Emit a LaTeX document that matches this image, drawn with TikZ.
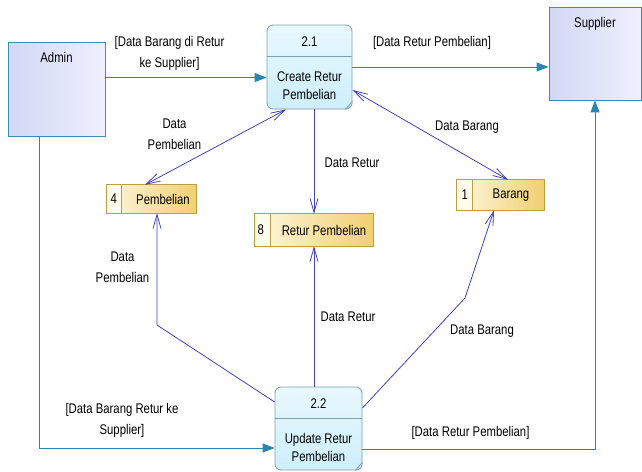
\documentclass[tikz,border=0pt]{standalone}
\usepackage{fontspec}
\setmainfont{Liberation Sans}[FakeStretch=0.81]
\usetikzlibrary{arrows.meta,calc}

\definecolor{entline}{HTML}{3F8DAE}
\definecolor{entdark}{HTML}{D2D8F5}
\definecolor{entlight}{HTML}{EEF0FC}
\definecolor{procline}{HTML}{7C9FB2}
\definecolor{proctop}{HTML}{E8F8FE}
\definecolor{procbot}{HTML}{CDEFFB}
\definecolor{storeline}{HTML}{BC9E44}
\definecolor{storelight}{HTML}{FDF7DD}
\definecolor{storedark}{HTML}{F1CF72}
\definecolor{storenum}{HTML}{FFFCEB}
\definecolor{extflow}{HTML}{2A86B0}
\definecolor{dataflow}{HTML}{4442BC}

\tikzset{
  entity/.style={draw=entline, line width=0.9pt, left color=entdark, right color=entlight},
  process/.style={draw=procline, line width=0.8pt, rounded corners=6pt,
    top color=proctop, bottom color=procbot},
  store/.style={left color=storelight, right color=storedark},
  storeframe/.style={draw=storeline, line width=0.8pt},
  divider/.style={draw=procline, line width=0.8pt},
  sdivider/.style={draw=storeline, line width=0.8pt},
  ext/.style={draw=extflow, line width=1pt, -{Triangle[length=12pt,width=9pt]}},
  flow/.style={draw=dataflow, line width=0.8pt, -{Straight Barb[length=14pt,width=8pt]}},
  flowboth/.style={draw=dataflow, line width=0.8pt,
    {Straight Barb[length=14pt,width=8pt]}-{Straight Barb[length=14pt,width=8pt]}},
  lbl/.style={align=center, inner sep=0pt, font=\fontsize{14pt}{21pt}\selectfont},
  ptext/.style={align=center, inner sep=0pt, font=\fontsize{14pt}{18pt}\selectfont},
}

\begin{document}
\begin{tikzpicture}[x=1pt, y=-1pt, font=\fontsize{14pt}{18pt}\selectfont]
  \useasboundingbox[fill=white] (0,0) rectangle (642,471);

  % external entities
  \node[entity, minimum width=97pt, minimum height=94pt] (admin) at (56.5,89) {};
  \node[ptext] (admintxt) at ([yshift=-16pt]admin.north) {Admin};
  \node[entity, minimum width=92pt, minimum height=93pt] (supplier) at (595,53.5) {};
  \node[ptext] (suppliertxt) at ([yshift=-17pt]supplier.north) {Supplier};

  % processes
  \node[process, minimum width=85pt, minimum height=84pt] (p21) at (309.5,67) {};
  \draw[divider] ([yshift=-32pt]p21.north west) -- ([yshift=-32pt]p21.north east);
  \draw[divider] ([xshift=-7pt]p21.south east) -- ([yshift=8pt]p21.south east);
  \node[ptext] (p21num) at ([yshift=-17pt]p21.north) {2.1};
  \node[ptext] (p21txt) at ([yshift=23.5pt]p21.south) {Create Retur\\Pembelian};

  \node[process, minimum width=87pt, minimum height=83pt] (p22) at (318.5,428.5) {};
  \draw[divider] ([yshift=-32pt]p22.north west) -- ([yshift=-32pt]p22.north east);
  \draw[divider] ([xshift=-7pt]p22.south east) -- ([yshift=8pt]p22.south east);
  \node[ptext] (p22num) at ([yshift=-17pt]p22.north) {2.2};
  \node[ptext] (p22txt) at ([yshift=23pt]p22.south) {Update Retur\\Pembelian};

  % data stores: shaded body, pale number cell, then frame on top
  \node[store, minimum width=89pt, minimum height=28pt] (s4) at (151.5,199) {};
  \fill[storenum] (s4.north west) rectangle ([xshift=15pt]s4.south west);
  \draw[storeframe] (s4.north west) rectangle (s4.south east);
  \draw[sdivider] ([xshift=15pt]s4.north west) -- ([xshift=15pt]s4.south west);
  \node[ptext] (s4num) at ([xshift=7pt]s4.west) {4};
  \node[ptext] (s4txt) at (163,199) {Pembelian};

  \node[store, minimum width=118pt, minimum height=32pt] (s8) at (314,230) {};
  \fill[storenum] (s8.north west) rectangle ([xshift=16pt]s8.south west);
  \draw[storeframe] (s8.north west) rectangle (s8.south east);
  \draw[sdivider] ([xshift=16pt]s8.north west) -- ([xshift=16pt]s8.south west);
  \node[ptext] (s8num) at ([xshift=6pt]s8.west) {8};
  \node[ptext] (s8txt) at (324,230) {Retur Pembelian};

  \node[store, minimum width=87pt, minimum height=30pt] (s1) at (500.5,195) {};
  \fill[storenum] (s1.north west) rectangle ([xshift=16pt]s1.south west);
  \draw[storeframe] (s1.north west) rectangle (s1.south east);
  \draw[sdivider] ([xshift=16pt]s1.north west) -- ([xshift=16pt]s1.south west);
  \node[ptext] (s1num) at ([xshift=8pt]s1.west) {1};
  \node[ptext] (s1txt) at (511,195) {Barang};

  % flows between entities and processes
  \coordinate (a1) at ([yshift=-36pt]admin.north east);
  \draw[ext] (a1) -- (a1 -| p21.west);
  \draw[ext] (p21.east) -- (p21.east -| supplier.west);
  \coordinate (a2) at ([xshift=-17.5pt]admin.south);
  \draw[ext] (a2) |- ([yshift=-19.5pt]p22.west);
  \draw[ext] ([yshift=-20.5pt]p22.east) -| (supplier.south);

  % flows between processes and stores
  \draw[flowboth] ([xshift=-23.5pt]p21.south) -- ([xshift=-6.5pt]s4.north);
  \draw[flowboth] ([yshift=-23pt]p21.east) -- ([xshift=7.5pt]s1.north);
  \draw[flow] (s8.north |- p21.south) -- (s8.north);

  \coordinate (k1) at (157,325);
  \draw[flow] ([yshift=26.5pt]p22.west) -- (k1) -- (k1 |- s4.south);
  \draw[flow] (s8.south |- p22.north) -- (s8.south);
  \coordinate (k2) at (465,298);
  \draw[flow] ([yshift=20.5pt]p22.east) -- (k2) -- ([xshift=-6.5pt]s1.south);

  % flow labels
  \node[lbl] (l1) at (169.5,53) {[Data Barang di Retur\\ke Supplier]};
  \node[lbl] (l2) at (432,43) {[Data Retur Pembelian]};
  \node[lbl] (l3) at (174.5,134.5) {Data\\Pembelian};
  \node[lbl] (l4) at (467,127) {Data Barang};
  \node[lbl] (l5) at (352,163) {Data Retur};
  \node[lbl] (l6) at (122.5,267) {Data\\Pembelian};
  \node[lbl] (l7) at (348,317) {Data Retur};
  \node[lbl] (l8) at (482,331) {Data Barang};
  \node[lbl] (l9) at (122,420) {[Data Barang Retur ke\\Supplier]};
  \node[lbl] (l10) at (470.5,433) {[Data Retur Pembelian]};
\end{tikzpicture}
\end{document}
